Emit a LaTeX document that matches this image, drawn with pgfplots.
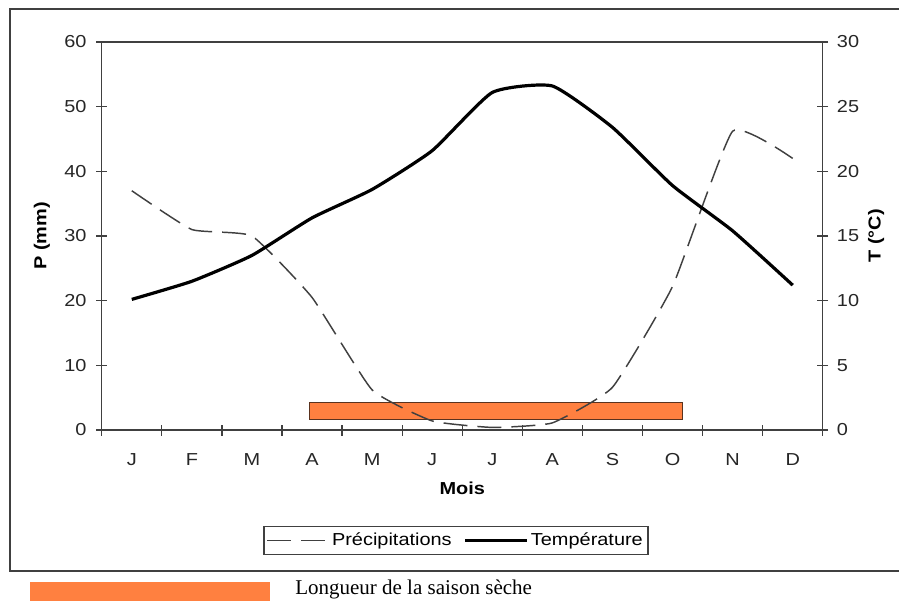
\documentclass[border=0pt]{standalone}
\usepackage{fontspec}
\setmainfont{Liberation Sans}[FakeStretch=1.15]
\newfontfamily\seriffont{Liberation Serif}
\usepackage{pgfplots}
\pgfplotsset{compat=1.18}
\definecolor{dryorange}{RGB}{255,128,64}
\definecolor{axgray}{RGB}{64,64,64}
\definecolor{baredge}{RGB}{90,50,30}
\newcommand{\tickfont}{\fontsize{13}{15}\selectfont}

\pgfplotstableread{
m P
0 37
1 31
2 30
3 20.5
4 6.2
5 1.4
6 0.4
7 1.1
8 6.6
9 22.2
10 46.2
11 42
}\precip

\pgfplotstableread{
m T
0 10.1
1 11.5
2 13.5
3 16.4
4 18.6
5 21.6
6 26.1
7 26.6
8 23.4
9 18.9
10 15.4
11 11.2
}\temp

\pgfplotsset{
  common/.style={
    at={(76.3pt,127.5pt)}, anchor=south west,
    scale only axis, width=540.75pt, height=291pt,
    xmin=-0.5, xmax=11.5,
    tick align=center,
    major tick length=8.25pt,
    every tick/.style={axgray, line width=0.9pt},
    axis line style={axgray, line width=1.1pt},
    tick label style={font=\tickfont, text=black!85},
    label style={font=\tickfont\bfseries},
    /pgf/number format/assume math mode=true,
  },
  precipstyle/.style={axgray, line width=1.1pt, dash pattern=on 18pt off 7.5pt, smooth, tension=0.25},
  tempstyle/.style={black, line width=2.4pt, smooth, tension=0.3},
}

\begin{document}
\begin{tikzpicture}
\begin{scope}[x=0.75pt,y=0.75pt]
\path[use as bounding box] (0,0) rectangle (899,600);
\draw[axgray, line width=1.5pt] (10,29.3) rectangle (910,591);
\fill[dryorange] (30,-10) rectangle (270,18);
\node[anchor=base west, inner sep=0pt, font=\seriffont\fontsize{15.75}{18}\selectfont] at (295,6) {Longueur de la saison sèche};
\end{scope}

\begin{axis}[common,
  ymin=0, ymax=60, ytick={0,10,...,60},
  xtick={-0.5,0.5,...,11.5},
  x tick label as interval,
  xticklabels={J,F,M,A,M,J,J,A,S,O,N,D},
  xticklabel style={yshift=-10pt},
  yticklabel style={xshift=-3.75pt},
  xtick pos=bottom, ytick pos=left,
  xlabel={Mois}, ylabel={P (mm)},
  xlabel style={at={(axis description cs:0.5,-0.1495)}, anchor=center},
  ylabel style={at={(axis description cs:-0.083,0.5)}, anchor=center},
]
\addplot[fill=dryorange, draw=baredge, line width=0.75pt] coordinates {(2.95,1.55) (9.17,1.55) (9.17,4.33) (2.95,4.33)} -- cycle;
\addplot[precipstyle] table[x=m, y=P] {\precip};
\end{axis}

\begin{axis}[common,
  ymin=0, ymax=30, ytick={0,5,...,30},
  axis x line=none, axis y line*=right,
  yticklabel style={xshift=3pt},
  ylabel={T (°C)},
  ylabel style={at={(axis description cs:1.074,0.5)}, anchor=center, rotate=0},
  legend style={at={(axis description cs:0.4914,-0.2848)}, anchor=center,
    legend columns=2, draw=axgray, line width=1.1pt, font=\tickfont,
    inner xsep=2pt, inner ysep=3pt,
    /tikz/every even column/.append style={column sep=7pt}},
  legend image code/.code={\draw[#1] (0pt,0pt) -- (46pt,0pt);},
]
\addlegendimage{precipstyle}
\addplot[tempstyle] table[x=m, y=T] {\temp};
\legend{Précipitations, Température}
\end{axis}
\end{tikzpicture}
\end{document}
